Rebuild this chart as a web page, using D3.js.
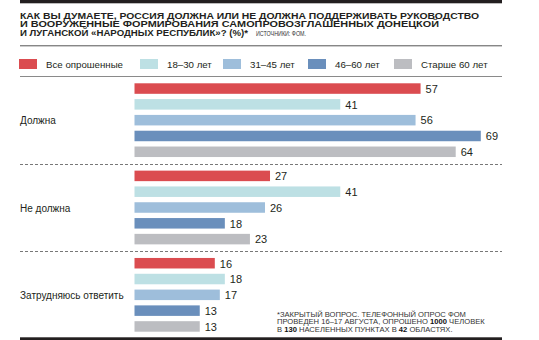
<!DOCTYPE html>
<html><head><meta charset="utf-8">
<script src="https://cdn.jsdelivr.net/npm/d3@7"></script>
<style>
html,body{margin:0;padding:0;background:#fff;}
svg{display:block;}
text{font-family:"Liberation Sans Narrow","Arial Narrow","Liberation Sans",sans-serif;}
</style></head>
<body><svg id="c" width="539" height="340"></svg>
<script>
const titleLines = ["КАК ВЫ ДУМАЕТЕ, РОССИЯ ДОЛЖНА ИЛИ НЕ ДОЛЖНА ПОДДЕРЖИВАТЬ РУКОВОДСТВО",
  "И ВООРУЖЕННЫЕ ФОРМИРОВАНИЯ САМОПРОВОЗГЛАШЕННЫХ ДОНЕЦКОЙ",
  "И ЛУГАНСКОЙ «НАРОДНЫХ РЕСПУБЛИК»? (%)*"];
const sourceText = "ИСТОЧНИКИ: ФОМ.";
const categories = ["Должна", "Не должна", "Затрудняюсь ответить"];
const series = ["Все опрошенные", "18–30 лет", "31–45 лет", "46–60 лет", "Старше 60 лет"];
const colors = ["#db4c50", "#bde0e4", "#9ebedb", "#6a8fbc", "#bcbdc1"];
const values = {
  "Должна": [57, 41, 56, 69, 64],
  "Не должна": [27, 41, 26, 18, 23],
  "Затрудняюсь ответить": [16, 18, 17, 13, 13]
};
const footnote = [
  [["*ЗАКРЫТЫЙ ВОПРОС. ТЕЛЕФОННЫЙ ОПРОС ФОМ", false]],
  [["ПРОВЕДЕН 16–17 АВГУСТА, ОПРОШЕНО ", false], ["1000", true], [" ЧЕЛОВЕК", false]],
  [["В ", false], ["130", true], [" НАСЕЛЕННЫХ ПУНКТАХ В ", false], ["42", true], [" ОБЛАСТЯХ.", false]]
];

const svg = d3.select("#c");
const L = 20, R = 502;

// top thick bar
svg.append("rect").attr("x", L).attr("y", 0).attr("width", R - L).attr("height", 3.3).attr("fill", "#231f20");

// title
const tBase = [19.2, 27.3, 35.9];
const tLen = [459, 419, 228];
titleLines.forEach((t, i) => {
  svg.append("text").attr("x", L).attr("y", tBase[i]).attr("font-size", 9.3).attr("font-weight", "bold")
    .attr("fill", "#231f20").attr("textLength", tLen[i]).attr("lengthAdjust", "spacingAndGlyphs").text(t);
});
svg.append("text").attr("x", 256).attr("y", 35.8).attr("font-size", 7).attr("fill", "#333")
  .attr("textLength", 50).attr("lengthAdjust", "spacingAndGlyphs").text(sourceText);

svg.append("line").attr("x1", L).attr("x2", R).attr("y1", 45.8).attr("y2", 45.8).attr("stroke", "#555").attr("stroke-width", 1);

// legend
const legX = [19, 140, 223, 308, 394];
series.forEach((s, i) => {
  svg.append("rect").attr("x", legX[i]).attr("y", 59).attr("width", 18).attr("height", 10).attr("fill", colors[i]);
  svg.append("text").attr("x", legX[i] + 27).attr("y", 68).attr("font-size", 9.7).attr("fill", "#231f20").text(s);
});
svg.append("line").attr("x1", L).attr("x2", R).attr("y1", 76.5).attr("y2", 76.5).attr("stroke", "#8a8a8a").attr("stroke-width", 1);

// scales
const x = d3.scaleLinear().domain([0, 69]).range([134.5, 480.8]);
const y0 = d3.scaleBand().domain(categories).range([76.5, 338.5]);
const y1 = d3.scaleBand().domain(series).range([0, y0.bandwidth()]).paddingInner(0.335).paddingOuter(0.43);

// separators
categories.slice(0, -1).forEach(c => {
  const yy = Math.round(y0(c) + y0.step()) + 0.5;
  svg.append("line").attr("x1", L).attr("x2", R).attr("y1", yy).attr("y2", yy)
    .attr("stroke", "#555").attr("stroke-width", 0.8).attr("stroke-dasharray", "3,2");
});

const g = svg.selectAll("g.grp").data(categories).enter().append("g").attr("class", "grp")
  .attr("transform", c => `translate(0,${y0(c)})`);

g.append("text").attr("x", L).attr("y", y0.bandwidth() / 2 + 4.2).attr("font-size", 10).attr("fill", "#231f20").text(c => c);

g.selectAll("rect").data(c => values[c].map((v, i) => ({v, s: series[i], i}))).enter().append("rect")
  .attr("x", x(0)).attr("y", d => y1(d.s)).attr("width", d => x(d.v) - x(0)).attr("height", y1.bandwidth())
  .attr("fill", d => colors[d.i]);

g.selectAll("text.val").data(c => values[c].map((v, i) => ({v, s: series[i], i}))).enter().append("text")
  .attr("class", "val").attr("x", d => x(d.v) + 5).attr("y", d => y1(d.s) + y1.bandwidth() / 2 + 4.3)
  .attr("font-size", 11).attr("fill", "#231f20").text(d => d.v);

// footnote
const fBase = [316.6, 324.4, 332.3];
footnote.forEach((parts, i) => {
  const t = svg.append("text").attr("x", 277).attr("y", fBase[i]).attr("font-size", 7.6).attr("fill", "#333");
  parts.forEach(p => t.append("tspan").attr("font-weight", p[1] ? "bold" : "normal").attr("fill", p[1] ? "#111" : "#333").text(p[0]));
});

// bottom thick bar
svg.append("rect").attr("x", L).attr("y", 337.3).attr("width", R - L).attr("height", 3).attr("fill", "#231f20");
</script></body></html>
